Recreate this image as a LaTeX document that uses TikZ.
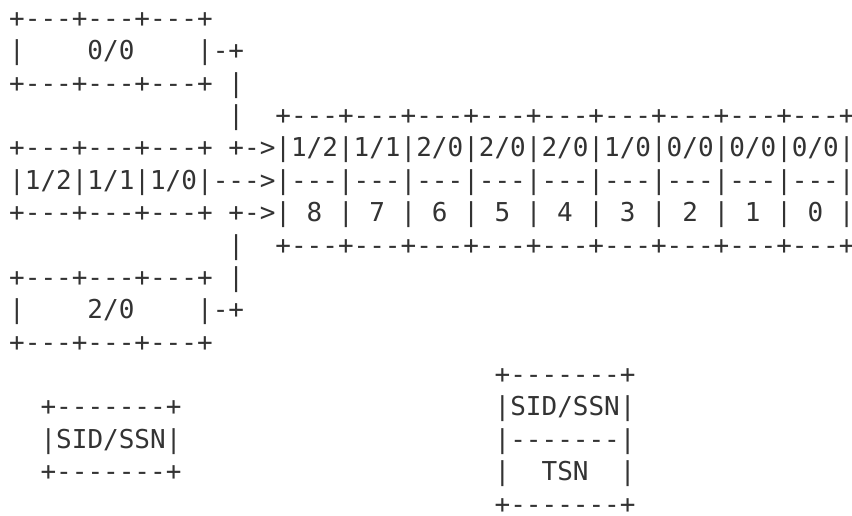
\documentclass[tikz,border=0pt]{standalone}
\usepackage{fontspec}
\setmonofont{DejaVu Sans Mono}
\definecolor{inkgray}{HTML}{333333}
\tikzset{asc/.style={anchor=base west, inner sep=0pt, outer sep=0pt, text=inkgray,
    font=\ttfamily\fontsize{13}{16.2}\selectfont}}
\begin{document}
\begin{tikzpicture}[x=7.83pt, y=-16.2pt]
    \useasboundingbox (-0.59,-0.84) rectangle (53.82,15.06);
    % upper queue
    \node[asc] (qa0) at (0,0) {+---+---+---+};
    \node[asc] (qa1) at (0,1) {|~~~~0/0~~~~|}; \node[asc] (ja1) at (13,1) {-+};
    \node[asc] (qa2) at (0,2) {+---+---+---+}; \node[asc] (ja2) at (14,2) {|};
    \node[asc] (ja3) at (14,3) {|};
    % middle queue
    \node[asc] (qb0) at (0,4) {+---+---+---+}; \node[asc] (jb0) at (14,4) {+->};
    \node[asc] (qb1) at (0,5) {|1/2|1/1|1/0|}; \node[asc] (jb1) at (13,5) {--->};
    \node[asc] (qb2) at (0,6) {+---+---+---+}; \node[asc] (jb2) at (14,6) {+->};
    % lower queue
    \node[asc] (jc3) at (14,7) {|};
    \node[asc] (qc0) at (0,8) {+---+---+---+}; \node[asc] (jc2) at (14,8) {|};
    \node[asc] (qc1) at (0,9) {|~~~~2/0~~~~|}; \node[asc] (jc1) at (13,9) {-+};
    \node[asc] (qc2) at (0,10) {+---+---+---+};
    % merged stream
    \node[asc] (tb0) at (17,3) {+---+---+---+---+---+---+---+---+---+};
    \node[asc] (tb1) at (17,4) {|1/2|1/1|2/0|2/0|2/0|1/0|0/0|0/0|0/0|};
    \node[asc] (tb2) at (17,5) {|---|---|---|---|---|---|---|---|---|};
    \node[asc] (tb3) at (17,6) {|~8~|~7~|~6~|~5~|~4~|~3~|~2~|~1~|~0~|};
    \node[asc] (tb4) at (17,7) {+---+---+---+---+---+---+---+---+---+};
    % legends
    \node[asc] (ka0) at (2,12) {+-------+}; \node[asc] (kb0) at (31,11) {+-------+};
    \node[asc] (ka1) at (2,13) {|SID/SSN|}; \node[asc] (kb1) at (31,12) {|SID/SSN|};
    \node[asc] (ka2) at (2,14) {+-------+}; \node[asc] (kb2) at (31,13) {|-------|};
    \node[asc] (kb3) at (31,14) {|~~TSN~~|};
    \node[asc] (kb4) at (31,15) {+-------+};
\end{tikzpicture}
\end{document}
